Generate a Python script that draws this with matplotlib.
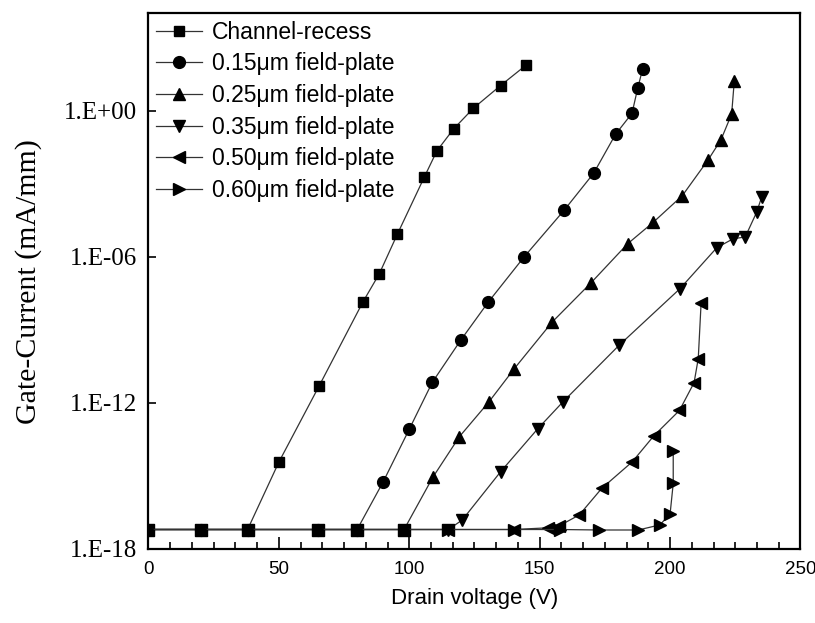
import numpy as np
import matplotlib
matplotlib.use("Agg")
import matplotlib.pyplot as plt
from matplotlib.ticker import MultipleLocator, NullLocator

sans = 'Liberation Sans'
serif = 'Liberation Serif'

# drain voltage (V) and log10 of gate current (mA/mm)
base = -17.2

v_recess = [0, 20, 38, 50.0, 65.5, 82.2, 88.5, 95.4, 105.8, 110.6, 117.0, 124.5, 135.0, 144.8]
i_recess = [base, base, base, -14.43, -11.29, -7.86, -6.70, -5.08, -2.72, -1.65, -0.75, 0.09, 1.03, 1.87]

v_015 = [0, 20, 38, 65, 80, 90.0, 100.0, 108.8, 119.7, 130.3, 144.0, 159.3, 170.7, 179.1, 185.4, 187.6, 189.5]
i_015 = [base] * 5 + [-15.24, -13.08, -11.16, -9.43, -7.86, -6.01, -4.10, -2.57, -0.97, -0.11, 0.93, 1.72]

v_025 = [0, 20, 38, 65, 80, 98, 109.0, 119.2, 130.6, 140.3, 154.8, 169.6, 183.7, 193.6, 204.7, 214.6, 219.5, 223.6, 224.6]
i_025 = [base] * 6 + [-15.06, -13.39, -11.95, -10.59, -8.68, -7.08, -5.47, -4.58, -3.49, -2.02, -1.20, -0.14, 1.20]

v_035 = [0, 20, 38, 65, 80, 98, 115, 120.3, 135.0, 149.2, 158.9, 180.4, 203.8, 217.9, 224.2, 228.8, 233.2, 235.1]
i_035 = [base] * 7 + [-16.81, -14.83, -13.07, -11.96, -9.64, -7.31, -5.63, -5.26, -5.19, -4.17, -3.55]

v_050 = [0, 20, 38, 65, 80, 98, 115, 140, 153.3, 157.5, 165.2, 173.8, 185.5, 193.8, 203.6, 209.2, 210.8, 211.9]
i_050 = [base] * 8 + [-17.13, -17.05, -16.6, -15.51, -14.42, -13.35, -12.31, -11.17, -10.18, -7.88]

v_060 = [0, 20, 38, 65, 80, 98, 115, 140, 157.8, 172.7, 187.8, 196.1, 200.0, 201.2, 201.2]
i_060 = [base] * 8 + [-17.2, -17.22, -17.22, -17.01, -16.56, -15.31, -13.98]

labels = ['Channel-recess', '0.15\u03bcm field-plate', '0.25\u03bcm field-plate',
          '0.35\u03bcm field-plate', '0.50\u03bcm field-plate', '0.60\u03bcm field-plate']
markers = ['s', 'o', '^', 'v', '<', '>']
sizes = [7.5, 8.5, 9, 9, 9, 9]

series = [(v_recess, i_recess), (v_015, i_015), (v_025, i_025),
          (v_035, i_035), (v_050, i_050), (v_060, i_060)]

ytick_vals = [1e0, 1e-6, 1e-12, 1e-18]
ytick_labels = ['1.E+00', '1.E-06', '1.E-12', '1.E-18']

fig = plt.figure(figsize=(8.15, 6.23), dpi=100)
ax = fig.add_axes([0.1822, 0.1188, 0.80, 0.86])

for (v, i), lab, m, ms in zip(series, labels, markers, sizes):
    ax.plot(v, 10.0 ** np.array(i), color='#333333', lw=0.9, marker=m, ms=ms,
            mfc='black', mec='black', label=lab)

ax.set_yscale('log')
ax.set_xlim(0, 250)
ax.set_ylim(1e-18, 1e4)
ax.set_yticks(ytick_vals)
ax.set_yticklabels(ytick_labels, fontfamily=serif, fontsize=18)
ax.yaxis.set_minor_locator(NullLocator())
ax.xaxis.set_major_locator(MultipleLocator(50))
ax.xaxis.set_minor_locator(MultipleLocator(50 / 6))
for t in ax.get_xticklabels():
    t.set_fontfamily(sans)
    t.set_fontsize(13.5)

ax.tick_params(axis='x', which='major', direction='in', length=8.5, width=1.2, pad=9)
ax.tick_params(axis='x', which='minor', direction='in', length=5, width=1.2)
ax.tick_params(axis='y', which='major', direction='in', length=6, width=1.2, pad=8)
for s in ax.spines.values():
    s.set_linewidth(1.6)

ax.set_xlabel('Drain voltage (V)', fontfamily=sans, fontsize=16, labelpad=7)
ax.set_ylabel('Gate-Current (mA/mm)', fontfamily=serif, fontsize=21.5, labelpad=16)

leg = ax.legend(loc='upper left', bbox_to_anchor=(0, 1), borderaxespad=0,
                prop={'family': sans, 'size': 16.5}, numpoints=1, handlelength=2.0,
                handletextpad=0.45, labelspacing=0.38, borderpad=0.32,
                frameon=False)

fig.savefig('out.png', dpi=100)
